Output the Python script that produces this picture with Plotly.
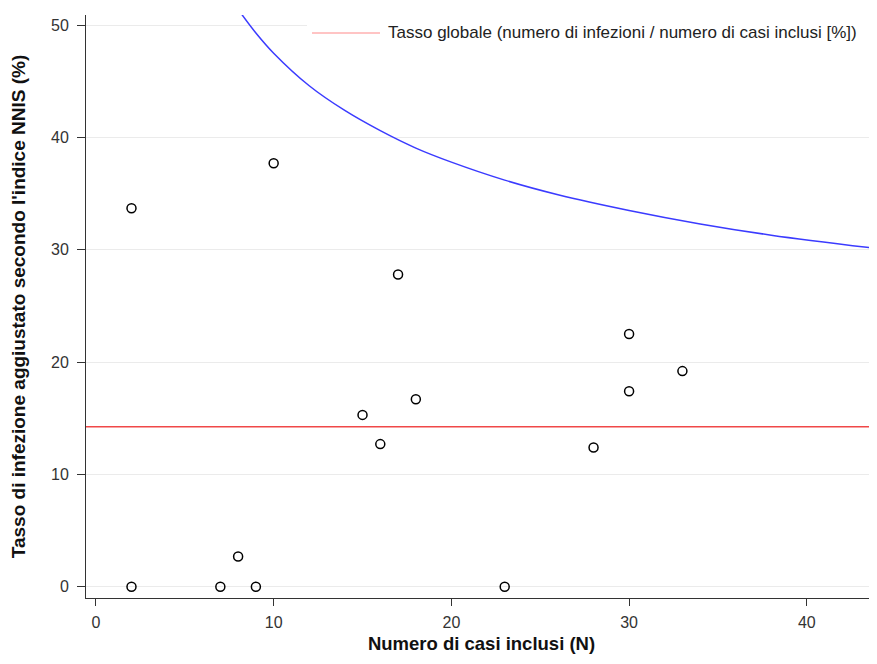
import plotly.graph_objects as go

# Data
n_cases = [2, 2, 7, 8, 9, 10, 15, 16, 17, 18, 23, 28, 30, 30, 33, 44]
rates = [33.7, 0, 0, 2.7, 0, 37.7, 15.3, 12.7, 27.8, 16.7, 0, 12.4, 22.5, 17.4, 19.2, 9.1]

global_rate = 14.25
legend_label = "Tasso globale (numero di infezioni / numero di casi inclusi [%])"

# Upper limit curve
limit_n = [8, 9, 10, 12, 14, 16, 18, 20, 23, 26, 30, 34, 38, 44]
limit_vals = [51.4, 49.3, 47.5, 44.6, 42.4, 40.6, 39.05, 37.8, 36.2, 34.9, 33.5, 32.3, 31.3, 30.1]

x_ticks = [0, 10, 20, 30, 40]
y_ticks = [0, 10, 20, 30, 40, 50]

FONT = "Liberation Sans, Arial, sans-serif"

# page has an 8px body margin; figure is sized so the page does not overflow
W, H = 869, 648
ML, MR, MT, MB = 78, 0, 7, 58

fig = go.Figure()

fig.add_trace(go.Scatter(
    x=limit_n, y=limit_vals, mode="lines", line=dict(color="#3b3bff", width=1.5, shape="spline"),
    showlegend=False, hoverinfo="skip"))

fig.add_hline(y=global_rate, line=dict(color="#f04848", width=1.5), layer="above")

fig.add_trace(go.Scatter(
    x=n_cases, y=rates, mode="markers",
    marker=dict(symbol="circle-open", size=9, color="black", line=dict(width=1.5)),
    showlegend=False, cliponaxis=True))

# manual legend (positions in paper coords of the plot area)
PW = W - ML - MR
PH = H - MT - MB
def px_x(page_x):
    return (page_x - 8 - ML) / PW
def px_y(page_y):
    return 1 - (page_y - 8 - MT) / PH

fig.add_shape(type="rect", xref="paper", yref="paper", x0=px_x(307), x1=1.0, y0=px_y(44), y1=px_y(20),
              fillcolor="white", line=dict(width=0), layer="above")
fig.add_shape(type="line", xref="paper", yref="paper", x0=px_x(312), x1=px_x(380), y0=px_y(33), y1=px_y(33),
              line=dict(color="#ff8a8a", width=1.2), layer="above")
fig.add_annotation(xref="paper", yref="paper", x=px_x(386), y=px_y(33), xanchor="left", yanchor="middle",
                   text=legend_label, showarrow=False,
                   font=dict(family=FONT, size=17, color="#222"))

fig.update_layout(
    width=W, height=H,
    margin=dict(l=ML, r=MR, t=MT, b=MB, pad=0),
    paper_bgcolor="white", plot_bgcolor="white",
    font=dict(family=FONT, color="#222"),
)
fig.update_xaxes(
    range=[-0.56, 43.95], tickvals=x_ticks, ticks="outside", ticklen=7, tickcolor="#333",
    showline=True, linecolor="#333", linewidth=1, showgrid=False, zeroline=False, automargin=False,
    tickfont=dict(size=16, family=FONT, color="#333"), ticklabelstandoff=3,
    title=dict(text="<b>Numero di casi inclusi (N)</b>", font=dict(size=18.5, family=FONT, color="#111"), standoff=6),
)
fig.update_yaxes(
    range=[-1, 50.9], tickvals=y_ticks, ticks="outside", ticklen=8, tickcolor="#333",
    showline=True, linecolor="#333", linewidth=1, showgrid=True, gridcolor="#ebebeb", zeroline=False,
    automargin=False,
    tickfont=dict(size=16, family=FONT, color="#333"), ticklabelstandoff=5,
    title=dict(text="<b>Tasso di infezione aggiustato secondo l'indice NNIS (%)</b>",
               font=dict(size=19, family=FONT, color="#111"), standoff=21),
)

fig.write_html("out.html")
